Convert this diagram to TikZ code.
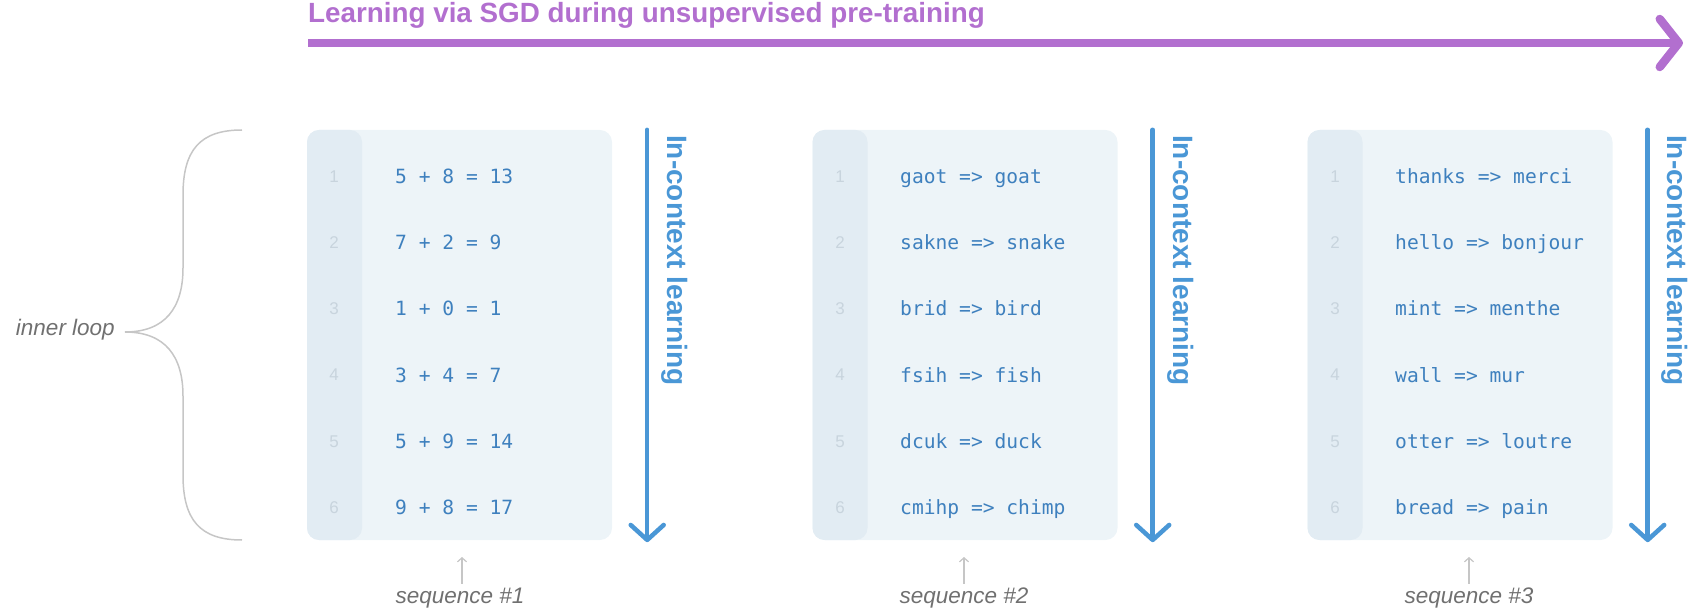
\documentclass[tikz,border=0pt]{standalone}
\usepackage{fontspec}
\setmainfont{Liberation Sans}
\setmonofont{DejaVu Sans Mono}
\usetikzlibrary{arrows.meta}
\definecolor{sgdpurple}{RGB}{178,111,207}
\definecolor{ctxblue}{RGB}{74,151,214}
\definecolor{codeblue}{RGB}{62,128,190}
\definecolor{boxfill}{RGB}{237,244,248}
\definecolor{gutterfill}{RGB}{226,236,243}
\definecolor{lnumgrey}{RGB}{200,212,221}
\definecolor{labelgrey}{RGB}{112,112,112}
\definecolor{bracegrey}{RGB}{198,198,198}

\begin{document}
\begin{tikzpicture}[x=1pt,y=-1pt,
	codebox/.style={fill=boxfill,rounded corners=12pt,minimum width=305pt,minimum height=410pt,inner sep=0pt,
		path picture={\fill[gutterfill] (path picture bounding box.north west) rectangle ([xshift=55pt]path picture bounding box.south west);}},
	lnum/.style={anchor=base,inner sep=0pt,text=lnumgrey,font=\fontsize{17}{17}\selectfont},
	code/.style={anchor=base west,inner sep=0pt,text=codeblue,font=\ttfamily\fontsize{19.6}{20}\selectfont},
	ctxlabel/.style={anchor=west,rotate=-90,inner sep=0pt,text=ctxblue,font=\bfseries\fontsize{28}{28}\selectfont},
	ctxarrow/.style={draw=ctxblue,line width=4.5pt,line cap=round,-{Straight Barb[length=15pt,width=33pt,round]}},
	greylabel/.style={text=labelgrey,font=\itshape\fontsize{22.5}{23}\selectfont},
	seqarrow/.style={draw=bracegrey,line width=1.2pt,-{Straight Barb[length=4pt,width=9pt]}}]
	\useasboundingbox (0,0) rectangle (1689,609);

	\node[anchor=base west,inner sep=0pt,text=sgdpurple,font=\bfseries\fontsize{27.8}{28}\selectfont] (title) at (308,23) {Learning via SGD during unsupervised pre-training};
	\coordinate (sgdstart) at (308,43);
	\coordinate (sgdend) at (1683,43);
	\draw[draw=sgdpurple,line width=8.5pt,-{Straight Barb[length=19pt,width=48pt,round]}] (sgdstart) -- (sgdend);

	\node[codebox] (box1) at (459.5,335) {};
	\node[codebox] (box2) at (965,335) {};
	\node[codebox] (box3) at (1460,335) {};

	\node[lnum] (l11) at (334,183) {1};
	\node[lnum] (l12) at (334,249) {2};
	\node[lnum] (l13) at (334,315) {3};
	\node[lnum] (l14) at (334,381) {4};
	\node[lnum] (l15) at (334,447) {5};
	\node[lnum] (l16) at (334,513) {6};
	\node[code] (c11) at (395,184) {5 + 8 = 13};
	\node[code] (c12) at (395,250) {7 + 2 = 9};
	\node[code] (c13) at (395,316) {1 + 0 = 1};
	\node[code] (c14) at (395,382) {3 + 4 = 7};
	\node[code] (c15) at (395,448) {5 + 9 = 14};
	\node[code] (c16) at (395,514) {9 + 8 = 17};

	\node[lnum] (l21) at (840,183) {1};
	\node[lnum] (l22) at (840,249) {2};
	\node[lnum] (l23) at (840,315) {3};
	\node[lnum] (l24) at (840,381) {4};
	\node[lnum] (l25) at (840,447) {5};
	\node[lnum] (l26) at (840,513) {6};
	\node[code] (c21) at (900,184) {gaot => goat};
	\node[code] (c22) at (900,250) {sakne => snake};
	\node[code] (c23) at (900,316) {brid => bird};
	\node[code] (c24) at (900,382) {fsih => fish};
	\node[code] (c25) at (900,448) {dcuk => duck};
	\node[code] (c26) at (900,514) {cmihp => chimp};

	\node[lnum] (l31) at (1335,183) {1};
	\node[lnum] (l32) at (1335,249) {2};
	\node[lnum] (l33) at (1335,315) {3};
	\node[lnum] (l34) at (1335,381) {4};
	\node[lnum] (l35) at (1335,447) {5};
	\node[lnum] (l36) at (1335,513) {6};
	\node[code] (c31) at (1395,184) {thanks => merci};
	\node[code] (c32) at (1395,250) {hello => bonjour};
	\node[code] (c33) at (1395,316) {mint => menthe};
	\node[code] (c34) at (1395,382) {wall => mur};
	\node[code] (c35) at (1395,448) {otter => loutre};
	\node[code] (c36) at (1395,514) {bread => pain};

	\draw[ctxarrow] ([xshift=35pt]box1.north east) -- ([xshift=35pt,yshift=-2pt]box1.south east);
	\draw[ctxarrow] ([xshift=35pt]box2.north east) -- ([xshift=35pt,yshift=-2pt]box2.south east);
	\draw[ctxarrow] ([xshift=35pt]box3.north east) -- ([xshift=35pt,yshift=-2pt]box3.south east);
	\node[ctxlabel] (ctx1) at (675,135) {In-context learning};
	\node[ctxlabel] (ctx2) at (1181,135) {In-context learning};
	\node[ctxlabel] (ctx3) at (1675,135) {In-context learning};

	\node[greylabel,anchor=base east,inner sep=0pt] (inner) at (115,336) {inner loop};
	\draw[draw=bracegrey,line width=1.5pt] (242,130) .. controls (200,130) and (183,150) .. (183,195) -- (183,268)
		.. controls (183,308) and (165,332) .. (125,332) .. controls (165,332) and (183,356) .. (183,396) -- (183,475)
		.. controls (183,520) and (200,540) .. (242,540);

	\node[greylabel,anchor=base] (seq1) at (460,603) {sequence \#1};
	\node[greylabel,anchor=base] (seq2) at (964,603) {sequence \#2};
	\node[greylabel,anchor=base] (seq3) at (1469,603) {sequence \#3};
	\coordinate (up1) at (462,557);
	\coordinate (up2) at (964,557);
	\coordinate (up3) at (1469,557);
	\draw[seqarrow] (seq1.north) ++(2,0) -- (up1);
	\draw[seqarrow] (seq2.north) -- (up2);
	\draw[seqarrow] (seq3.north) -- (up3);
\end{tikzpicture}
\end{document}
